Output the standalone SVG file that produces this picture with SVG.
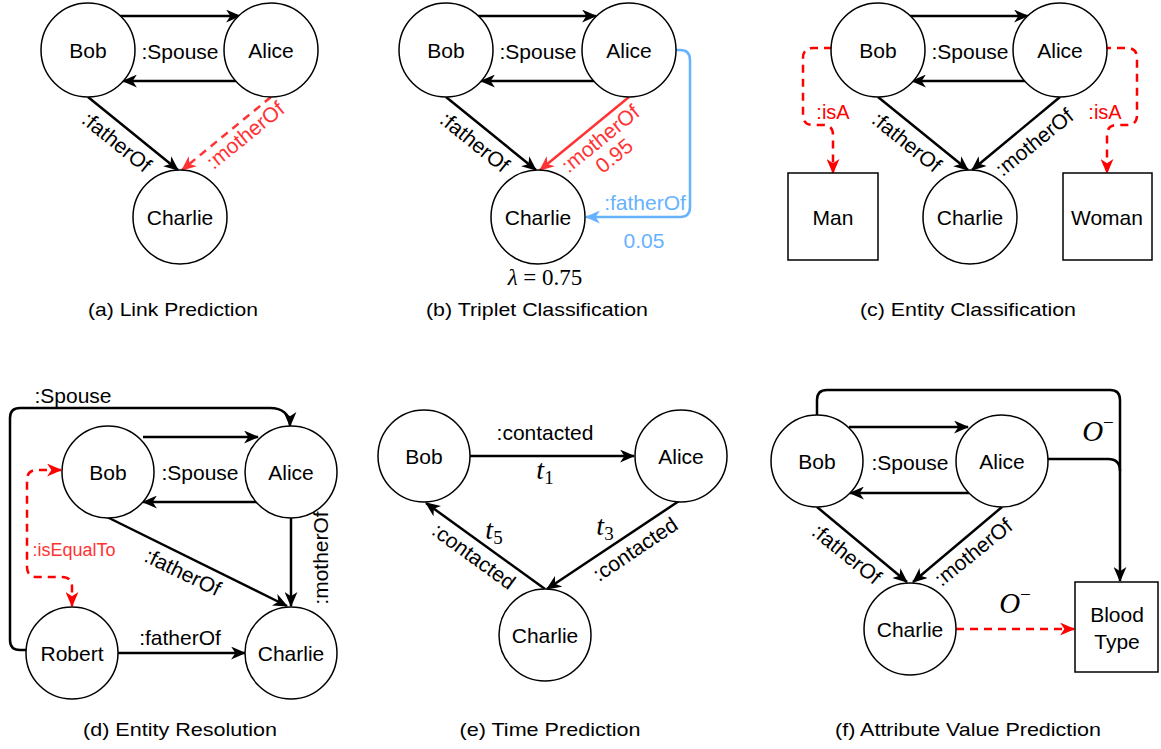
<svg xmlns="http://www.w3.org/2000/svg" width="1161" height="749" viewBox="0 0 1161 749">
  <style>
    .node { fill: #ffffff; stroke: #000000; stroke-width: 1.5; }
    .lbl { font-family: "Liberation Sans", Arial, sans-serif; font-size: 21px; text-anchor: middle; dominant-baseline: central; fill: #000000; }
    .edge { fill: none; stroke: #000000; stroke-width: 2.5; marker-end: url(#ah); }
    .edge-red { fill: none; stroke: #ff3333; stroke-width: 2.5; marker-end: url(#ah-red); }
    .dash-red { fill: none; stroke: #ff0000; stroke-width: 2.5; stroke-dasharray: 8 6; marker-end: url(#ah-red2); }
    .edge-blue { fill: none; stroke: #66b2ff; stroke-width: 2.5; marker-end: url(#ah-blue); }
    .red { fill: #ff3333; }
    .red2 { fill: #ff0000; }
    .blue { fill: #66b2ff; }
    .small { font-size: 20px; }
    .tiny { font-size: 18px; }
    .cap { font-family: "Liberation Sans", Arial, sans-serif; font-size: 19px; text-anchor: middle; fill: #000000; }
    .math { font-family: "Liberation Serif", "Times New Roman", serif; font-size: 23px; text-anchor: middle; fill: #000000; }
    .tvar { font-size: 28px; }
    .ovar { font-size: 29px; }
    .sub { font-size: 19px; }
    .it { font-style: italic; }
  </style>
  <defs>
    <marker id="ah" viewBox="0 0 14 12" markerWidth="15" markerHeight="13" refX="13" refY="6" orient="auto-start-reverse" markerUnits="userSpaceOnUse">
      <path d="M0,0 L14,6 L0,12 L4,6 z" fill="#000000"/>
    </marker>
    <marker id="ah-red" viewBox="0 0 14 12" markerWidth="15" markerHeight="13" refX="13" refY="6" orient="auto-start-reverse" markerUnits="userSpaceOnUse">
      <path d="M0,0 L14,6 L0,12 L4,6 z" fill="#ff3333"/>
    </marker>
    <marker id="ah-red2" viewBox="0 0 14 12" markerWidth="15" markerHeight="13" refX="13" refY="6" orient="auto-start-reverse" markerUnits="userSpaceOnUse">
      <path d="M0,0 L14,6 L0,12 L4,6 z" fill="#ff0000"/>
    </marker>
    <marker id="ah-blue" viewBox="0 0 14 12" markerWidth="15" markerHeight="13" refX="13" refY="6" orient="auto-start-reverse" markerUnits="userSpaceOnUse">
      <path d="M0,0 L14,6 L0,12 L4,6 z" fill="#66b2ff"/>
    </marker>
  </defs>
  <rect width="1161" height="749" fill="#ffffff"/>

  <!-- (a) Link Prediction -->
  <g id="a-connectors">
    <path class="edge" d="M120,16 L240,16"/>
    <path class="edge" d="M236,81 L123,81"/>
    <path class="edge" d="M88,97 L178,170"/>
    <path class="edge-red" style="stroke-dasharray: 8 6" d="M271,97 L182,170"/>
    <text class="lbl" x="180" y="51">:Spouse</text>
    <text class="lbl" transform="translate(117,142) rotate(39)">:fatherOf</text>
    <text class="lbl red" transform="translate(245,135) rotate(-39)">:motherOf</text>
  </g>
  <g id="a-bob"><circle class="node" cx="88" cy="50" r="47"/><text class="lbl" x="88" y="50">Bob</text></g>
  <g id="a-alice"><circle class="node" cx="271" cy="50" r="47"/><text class="lbl" x="271" y="50">Alice</text></g>
  <g id="a-charlie"><circle class="node" cx="180" cy="217" r="47"/><text class="lbl" x="180" y="217">Charlie</text></g>
  <text class="cap" x="173" y="316" textLength="170" lengthAdjust="spacingAndGlyphs">(a) Link Prediction</text>

  <!-- (b) Triplet Classification -->
  <g id="b-connectors">
    <path class="edge" d="M478,16 L596,16"/>
    <path class="edge" d="M594,81 L481,81"/>
    <path class="edge" d="M446,97 L536,170"/>
    <path class="edge-red" d="M629,97 L540,170"/>
    <path class="edge-blue" d="M676,50 L680,50 Q690,50 690,60 L690,207 Q690,217 680,217 L586,217"/>
    <text class="lbl" x="538" y="51">:Spouse</text>
    <text class="lbl" transform="translate(475,142) rotate(39)">:fatherOf</text>
    <g transform="translate(607,147) rotate(-39)">
      <text class="lbl red" x="0" y="-11">:motherOf</text>
      <text class="lbl red" x="0" y="11">0.95</text>
    </g>
    <text class="lbl blue" x="645" y="202">:fatherOf</text>
    <text class="lbl blue" x="644" y="240">0.05</text>
  </g>
  <g id="b-bob"><circle class="node" cx="446" cy="50" r="47"/><text class="lbl" x="446" y="50">Bob</text></g>
  <g id="b-alice"><circle class="node" cx="629" cy="50" r="47"/><text class="lbl" x="629" y="50">Alice</text></g>
  <g id="b-charlie"><circle class="node" cx="538" cy="217" r="47"/><text class="lbl" x="538" y="217">Charlie</text></g>
  <text class="math" x="545" y="285"><tspan class="it">λ</tspan> = 0.75</text>
  <text class="cap" x="537" y="316" textLength="222" lengthAdjust="spacingAndGlyphs">(b) Triplet Classification</text>

  <!-- (c) Entity Classification -->
  <g id="c-connectors">
    <path class="edge" d="M910,16 L1028,16"/>
    <path class="edge" d="M1028,81 L912,81"/>
    <path class="edge" d="M878,97 L968,170"/>
    <path class="edge" d="M1060,97 L972,170"/>
    <path class="dash-red" d="M832,48 L813,48 Q803,48 803,58 L803,115 Q803,125 813,125 L823,125 Q833,125 833,135 L833,173"/>
    <path class="dash-red" d="M1103,48 L1127,48 Q1137,48 1137,58 L1137,115 Q1137,125 1127,125 L1117,125 Q1107,125 1107,135 L1107,173"/>
    <rect x="815" y="100" width="37" height="22" fill="#ffffff"/>
    <rect x="1087" y="100" width="37" height="22" fill="#ffffff"/>
    <text class="lbl red2 small" x="833" y="112">:isA</text>
    <text class="lbl red2 small" x="1105" y="112">:isA</text>
    <text class="lbl" x="970" y="51">:Spouse</text>
    <text class="lbl" transform="translate(907,142) rotate(39)">:fatherOf</text>
    <text class="lbl" transform="translate(1034,142) rotate(-39)">:motherOf</text>
  </g>
  <g id="c-bob"><circle class="node" cx="878" cy="50" r="47"/><text class="lbl" x="878" y="50">Bob</text></g>
  <g id="c-alice"><circle class="node" cx="1060" cy="50" r="47"/><text class="lbl" x="1060" y="50">Alice</text></g>
  <g id="c-charlie"><circle class="node" cx="970" cy="217" r="47"/><text class="lbl" x="970" y="217">Charlie</text></g>
  <g id="c-man"><rect class="node" x="788" y="173" width="90" height="87"/><text class="lbl" x="833" y="217">Man</text></g>
  <g id="c-woman"><rect class="node" x="1063" y="173" width="89" height="87"/><text class="lbl" x="1107" y="217">Woman</text></g>
  <text class="cap" x="968" y="316" textLength="216" lengthAdjust="spacingAndGlyphs">(c) Entity Classification</text>

  <!-- (d) Entity Resolution -->
  <g id="d-connectors">
    <path class="edge" d="M143,437 L258,437"/>
    <path class="edge" d="M258,502 L143,502"/>
    <path class="edge" d="M26,650 L20,650 Q10,650 10,640 L10,418 Q10,408 20,408 L270,408 C282,408 290,414 290,426"/>
    <path class="edge" d="M107,517 L287,606"/>
    <path class="edge" d="M291,518 L291,606"/>
    <path class="edge" d="M118,653 L245,653"/>
    <path class="dash-red" style="marker-start: url(#ah-red2)" d="M61,470 L37,470 Q27,470 27,480 L27,567 Q27,577 37,577 L62,577 Q72,577 72,587 L72,606"/>
    <text class="lbl" x="73" y="395">:Spouse</text>
    <text class="lbl" x="200" y="472">:Spouse</text>
    <text class="lbl" transform="translate(183,572) rotate(26)">:fatherOf</text>
    <text class="lbl" transform="translate(320,558) rotate(-90)">:motherOf</text>
    <text class="lbl" x="180" y="637">:fatherOf</text>
    <rect x="30" y="540" width="6" height="20" fill="#ffffff"/>
    <text class="lbl red tiny" x="74" y="550">:isEqualTo</text>
  </g>
  <g id="d-bob"><circle class="node" cx="108" cy="472" r="46"/><text class="lbl" x="108" y="472">Bob</text></g>
  <g id="d-alice"><circle class="node" cx="291" cy="472" r="46"/><text class="lbl" x="291" y="472">Alice</text></g>
  <g id="d-robert"><circle class="node" cx="72" cy="653" r="46"/><text class="lbl" x="72" y="653">Robert</text></g>
  <g id="d-charlie"><circle class="node" cx="291" cy="653" r="46"/><text class="lbl" x="291" y="653">Charlie</text></g>
  <text class="cap" x="180" y="736" textLength="194" lengthAdjust="spacingAndGlyphs">(d) Entity Resolution</text>

  <!-- (e) Time Prediction -->
  <g id="e-connectors">
    <path class="edge" d="M470,456 L634,456"/>
    <path class="edge" d="M679,501 L547,589"/>
    <path class="edge" d="M545,589 L426,503"/>
    <text class="lbl" x="545" y="432">:contacted</text>
    <text class="lbl" transform="translate(635,549) rotate(-34)">:contacted</text>
    <text class="lbl" transform="translate(474,556) rotate(36)">:contacted</text>
    <text class="math tvar" x="545" y="479"><tspan class="it">t</tspan><tspan class="sub" dy="5">1</tspan></text>
    <text class="math tvar" x="605" y="535"><tspan class="it">t</tspan><tspan class="sub" dy="5">3</tspan></text>
    <text class="math tvar red2" x="494" y="539"><tspan class="it">t</tspan><tspan class="sub" dy="5">5</tspan></text>
  </g>
  <g id="e-bob"><circle class="node" cx="424" cy="456" r="46"/><text class="lbl" x="424" y="456">Bob</text></g>
  <g id="e-alice"><circle class="node" cx="681" cy="456" r="46"/><text class="lbl" x="681" y="456">Alice</text></g>
  <g id="e-charlie"><circle class="node" cx="545" cy="635" r="46"/><text class="lbl" x="545" y="635">Charlie</text></g>
  <text class="cap" x="550" y="736" textLength="181" lengthAdjust="spacingAndGlyphs">(e) Time Prediction</text>

  <!-- (f) Attribute Value Prediction -->
  <g id="f-connectors">
    <path class="edge" d="M849,427 L968,427"/>
    <path class="edge" d="M969,493 L850,493"/>
    <path class="edge" d="M817,415 L817,400 Q817,390 827,390 L1110,390 Q1120,390 1120,400 L1120,581"/>
    <path fill="none" stroke="#000000" stroke-width="2.5" d="M1048,459 L1108,459 Q1120,459 1120,471"/>
    <path class="edge" d="M817,507 L907,582"/>
    <path class="edge" d="M1002,507 L913,582"/>
    <path class="dash-red" d="M956,629 L1074,629"/>
    <text class="lbl" x="910" y="462">:Spouse</text>
    <text class="lbl" transform="translate(847,554) rotate(39)">:fatherOf</text>
    <text class="lbl" transform="translate(973,552) rotate(-39)">:motherOf</text>
    <text class="math ovar" x="1098" y="441"><tspan class="it">O</tspan><tspan class="sub" dy="-12">−</tspan></text>
    <text class="math ovar red2" x="1015" y="613"><tspan class="it">O</tspan><tspan class="sub" dy="-12">−</tspan></text>
  </g>
  <g id="f-bob"><circle class="node" cx="817" cy="461" r="46"/><text class="lbl" x="817" y="461">Bob</text></g>
  <g id="f-alice"><circle class="node" cx="1002" cy="461" r="46"/><text class="lbl" x="1002" y="461">Alice</text></g>
  <g id="f-charlie"><circle class="node" cx="910" cy="629" r="46"/><text class="lbl" x="910" y="629">Charlie</text></g>
  <g id="f-bloodtype">
    <rect class="node" x="1075" y="582" width="83" height="90"/>
    <text class="lbl" x="1117" y="614">Blood</text>
    <text class="lbl" x="1117" y="641">Type</text>
  </g>
  <text class="cap" x="968" y="736" textLength="266" lengthAdjust="spacingAndGlyphs">(f) Attribute Value Prediction</text>
</svg>
